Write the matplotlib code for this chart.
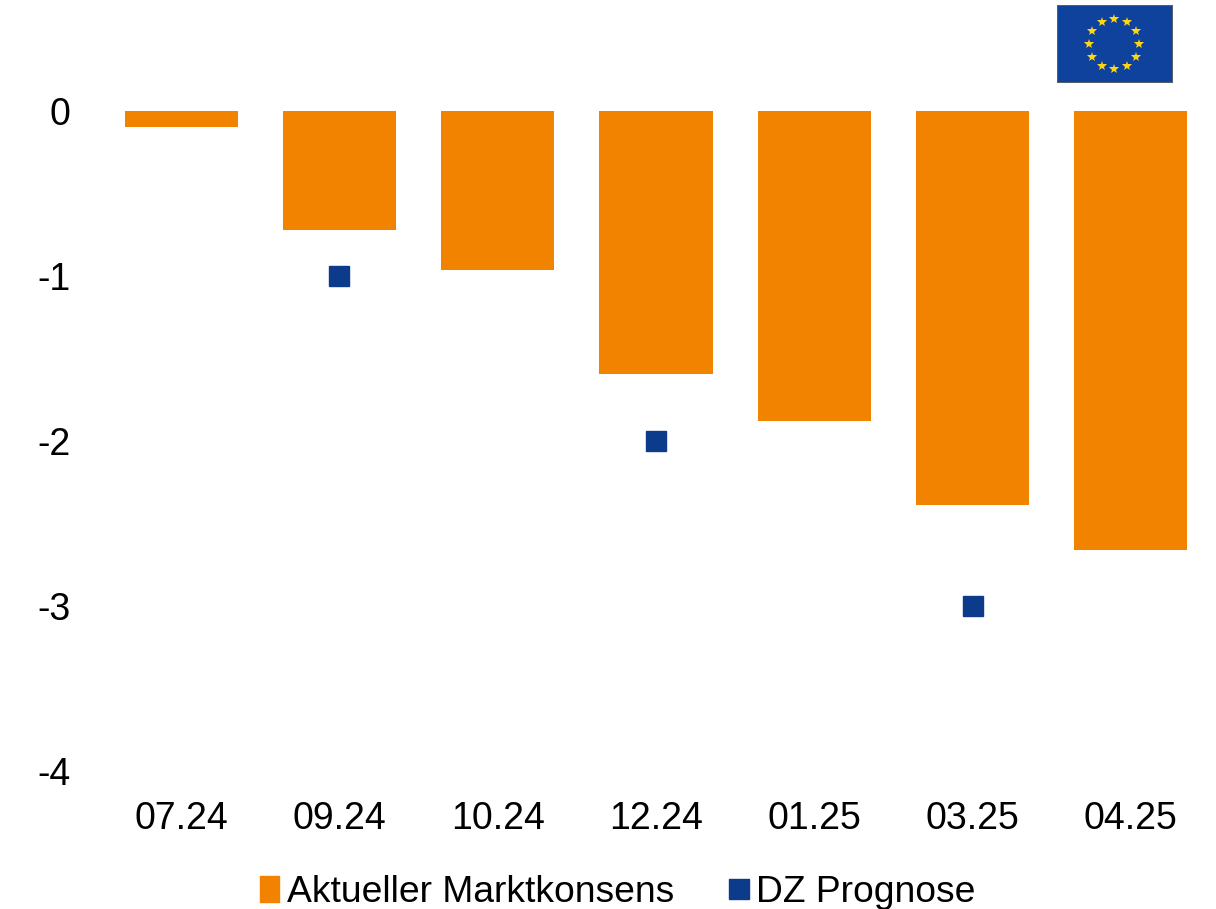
import numpy as np
import matplotlib
matplotlib.use("Agg")
import matplotlib.pyplot as plt
from matplotlib.lines import Line2D
from matplotlib.patches import Patch, Rectangle

categories = ['07.24', '09.24', '10.24', '12.24', '01.25', '03.25', '04.25']
konsens = [-0.095, -0.72, -0.965, -1.595, -1.88, -2.385, -2.66]
prognose = [np.nan, -1, np.nan, -2, np.nan, -3, np.nan]
yticks = [0, -1, -2, -3, -4]

W, H = 1216, 909
ORANGE = '#F28300'
BLUE = '#0D3B8C'

plt.rcParams['font.family'] = ['Liberation Sans', 'DejaVu Sans']
fig = plt.figure(figsize=(W / 100, H / 100), dpi=100)

# plot area in pixels: x 102..1210, y 111..771
ax = fig.add_axes([102 / W, 1 - 771 / H, 1108 / W, 660 / H])
x = np.arange(len(categories))
ax.bar(x, konsens, width=0.715, color=ORANGE, zorder=2)
ax.plot(x, prognose, ls='none', marker='s', ms=14.5, color=BLUE, zorder=3)

ax.set_xlim(-0.5, 6.5)
ax.set_ylim(-4, 0)
ax.set_yticks(yticks)
ax.set_yticklabels([str(t) for t in yticks], fontsize=27)
ax.set_xticks(x)
ax.set_xticklabels(categories, fontsize=27)
ax.tick_params(length=0)
ax.tick_params(axis='y', pad=22.5)
ax.tick_params(axis='x', pad=21.5)
for s in ax.spines.values():
    s.set_visible(False)

handles = [Patch(color=ORANGE, label='Aktueller Marktkonsens'),
           Line2D([], [], ls='none', marker='s', ms=14.5, color=BLUE, label='DZ Prognose')]
fig.legend(handles=handles, loc='lower center', bbox_to_anchor=(0.5082, -0.038), ncol=2, frameon=False,
           fontsize=26.8, handlelength=0.5, handleheight=0.7, handletextpad=0.22, columnspacing=1.48)

# flag box, top right
flag = fig.add_axes([1057 / W, 1 - 83 / H, 116 / W, 78 / H])
flag.set_xlim(0, 116)
flag.set_ylim(78, 0)
flag.axis('off')
flag.add_patch(Rectangle((0, 0), 116, 78, fc='#0E429C', ec='#555E6B', lw=1.5))
angles = np.deg2rad(np.arange(0, 360, 30))
flag.plot(57 + 25 * np.cos(angles), 39 + 25 * np.sin(angles), ls='none',
          marker='*', ms=7, color='#FFD617', mew=0)

fig.savefig('out.png', dpi=100)
